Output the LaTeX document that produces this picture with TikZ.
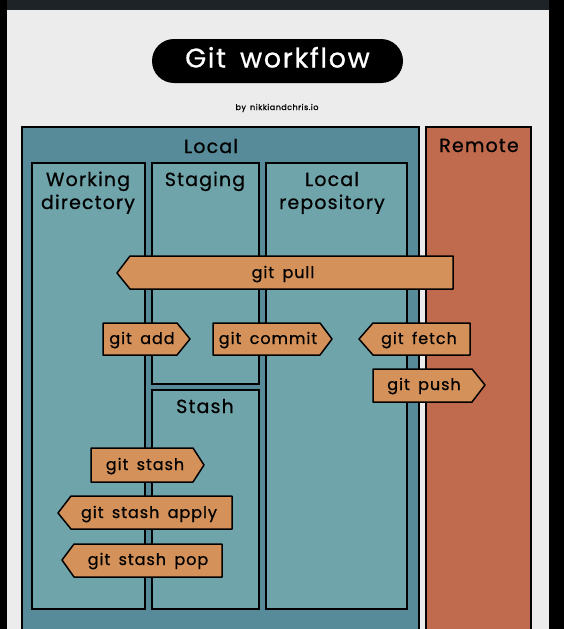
\documentclass[tikz,border=0pt]{standalone}
\usepackage{fontspec}
\setmainfont{Poppins}[LetterSpace=6,WordSpace=1.6,FakeBold=0.7]
\definecolor{bglight}{HTML}{ECECEC}
\definecolor{topbar}{HTML}{1E2328}
\definecolor{tealdark}{HTML}{588B99}
\definecolor{teallight}{HTML}{70A4AB}
\definecolor{signfill}{HTML}{D4915A}
\definecolor{remotefill}{HTML}{C06A4E}
\tikzset{
  box/.style={draw=black, line width=1.5pt},
  signshape/.style={draw=black, fill=signfill, line width=1.5pt, line join=round},
  lbl/.style={anchor=base, inner sep=0pt, font=\fontsize{19}{22}\selectfont, text=black},
  cmd/.style={anchor=base, inner sep=0pt, font=\fontsize{16}{19}\selectfont, text=black},
}
\begin{document}
\begin{tikzpicture}[x=1pt,y=-1pt]
\useasboundingbox (0,0) rectangle (564,629);
% frame
\fill[black] (0,0) rectangle (564,629);
\fill[topbar] (7,0) rectangle (549,10);
\fill[bglight] (7,10) rectangle (549,629);
% title
\fill[black, rounded corners=22pt] (152,39) rectangle (403,83);
\node[anchor=base, inner sep=0pt, text=white, font=\fontsize{27}{31}\selectfont] (title) at (277.5,67.5) {Git workflow};
\node[anchor=base, inner sep=0pt, font=\fontsize{8}{10}\selectfont] (by) at (277,110) {by nikkiandchris.io};
% regions
\draw[box, fill=tealdark] (22,127) rectangle (419,640);
\draw[box, fill=remotefill] (426,127) rectangle (531,640);
\draw[box, fill=teallight] (32,163) rectangle (145,609);
\draw[box, fill=teallight] (152,163) rectangle (259,384);
\draw[box, fill=teallight] (152,390) rectangle (259,609);
\draw[box, fill=teallight] (266,163) rectangle (407,609);
% region labels
\node[lbl] (local) at (211,153) {Local};
\node[lbl] (remote) at (479,152) {Remote};
\node[lbl] (wd1) at (88,186) {Working};
\node[lbl] (wd2) at (88,209) {directory};
\node[lbl] (staging) at (205,186) {Staging};
\node[lbl] (lr1) at (332,186) {Local};
\node[lbl] (lr2) at (332,209) {repository};
\node[lbl] (stash) at (205,413) {Stash};
% signs
% git pull (left)
\draw[signshape] (117,273) -- (130,256) -- (453,256) -- (453,289) -- (130,289) -- cycle;
\node[cmd] (pull) at (283,278) {git pull};
% git add (right)
\draw[signshape] (103,323) -- (177,323) -- (190,339) -- (177,355) -- (103,355) -- cycle;
\node[cmd] (add) at (142,344) {git add};
% git commit (right)
\draw[signshape] (213,323) -- (320,323) -- (332,339) -- (320,355) -- (213,355) -- cycle;
\node[cmd] (commit) at (268,344) {git commit};
% git fetch (left)
\draw[signshape] (359,339) -- (373,323) -- (470,323) -- (470,355) -- (373,355) -- cycle;
\node[cmd] (fetch) at (419,344) {git fetch};
% git push (right)
\draw[signshape] (373,369) -- (472,369) -- (485,385) -- (472,402) -- (373,402) -- cycle;
\node[cmd] (push) at (424,390) {git push};
% git stash (right)
\draw[signshape] (91,448) -- (193,448) -- (204,465) -- (193,482) -- (91,482) -- cycle;
\node[cmd] (gstash) at (145,470) {git stash};
% git stash apply (left)
\draw[signshape] (58,513) -- (71,496) -- (232,496) -- (232,529) -- (71,529) -- cycle;
\node[cmd] (apply) at (149,518) {git stash apply};
% git stash pop (left)
\draw[signshape] (62,560) -- (74,544) -- (222,544) -- (222,577) -- (74,577) -- cycle;
\node[cmd] (pop) at (148,565) {git stash pop};
\end{tikzpicture}
\end{document}
